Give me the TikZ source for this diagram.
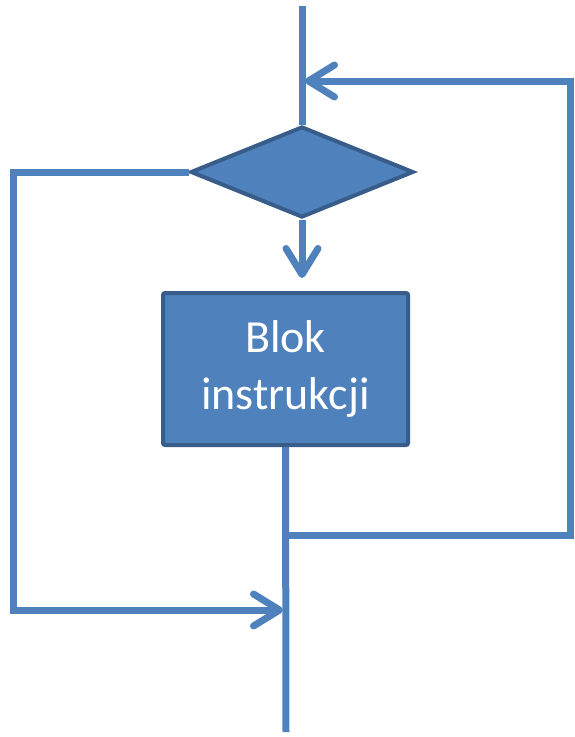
\documentclass[tikz,border=0pt]{standalone}
\usepackage{fontspec}
\setmainfont{Carlito}
\usetikzlibrary{shapes.geometric,arrows.meta}
\definecolor{lineblue}{HTML}{4F81BD}
\definecolor{edgeblue}{HTML}{385D8A}
\tikzset{
  conn/.style={draw=lineblue, line width=7pt, line join=miter},
  chev/.style={-{Straight Barb[length=26pt,width=32pt,line cap=round,line join=round]}},
  decis/.style={diamond, draw=edgeblue, fill=lineblue, line width=4pt, inner sep=0pt, minimum width=223pt, minimum height=91pt},
  blockbox/.style={rectangle, draw=edgeblue, fill=lineblue, line width=4pt, rounded corners=2pt, minimum width=245pt, minimum height=152pt, text=white, align=center, font=\fontsize{46}{57}\selectfont}
}
\begin{document}
\begin{tikzpicture}[x=1pt,y=-1pt]
\useasboundingbox (0,0) rectangle (574,737);
\node[decis] (d) at (302,172) {};
\node[blockbox] (b) at (285.5,369) {Blok\\instrukcji};
\coordinate (top) at (302,6);
\coordinate (jtop) at (305,81);
\coordinate (rtop) at (570,81);
\coordinate (rbot) at (570,535);
\coordinate (j1) at (286,535);
\coordinate (lt) at (13,172);
\coordinate (lb) at (13,610);
\coordinate (j2) at (283,610);
\coordinate (dtip) at (302,278);
\coordinate (bottom) at (286,732);
\draw[conn] (top) -- (d.north);
\draw[conn,chev] (j1) -- (rbot) -- (rtop) -- (jtop);
\draw[conn,chev] (d.west) -- (lt) -- (lb) -- (j2);
\draw[conn,chev] (d.south) -- (dtip);
\draw[conn] (b.south) -- (bottom);
\end{tikzpicture}
\end{document}
